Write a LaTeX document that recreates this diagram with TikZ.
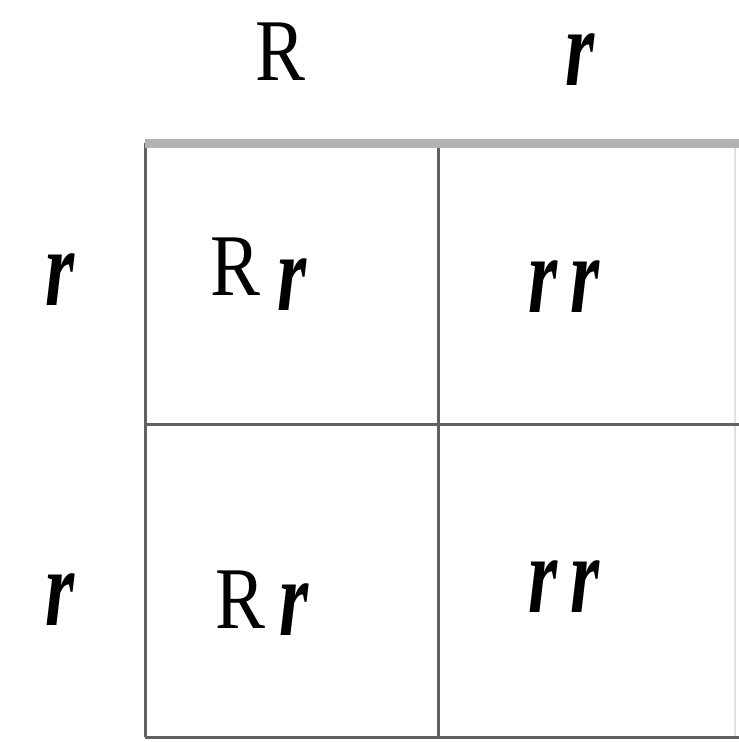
\documentclass[tikz,border=0pt]{standalone}
\usepackage{fontspec}
\setmainfont{Liberation Serif}
\newcommand{\rlet}{\scalebox{0.85}[1.25]{\bfseries\itshape r}}
\newcommand{\Rlet}{\scalebox{0.85}[1.0]{R}}
\begin{document}
\begin{tikzpicture}[x=1pt,y=-1pt,
  lbl/.style={inner sep=0pt, anchor=base, font=\fontsize{88}{88}\selectfont},
  gridline/.style={draw=black!62, line width=3pt},
  topline/.style={draw=black!30, line width=9pt},
  faint/.style={draw=black!12, line width=1.5pt}]
\useasboundingbox (0,0) rectangle (739,742);
% grid
\coordinate (tl) at (145,143);
\coordinate (tm) at (438,143);
\coordinate (tr) at (739,143);
\coordinate (ml) at (145,424);
\coordinate (mr) at (739,424);
\coordinate (bl) at (145,737);
\coordinate (bm) at (438,737);
\coordinate (br) at (739,737);
\draw[faint] (735,143) -- (735,737);
\draw[gridline] (tl) -- (bl);
\draw[gridline] (tm) -- (bm);
\draw[gridline] (ml) -- (mr);
\draw[gridline] (bl) -- (br);
\draw[topline] (tl) -- (tr);
% headers
\node[lbl] (hR) at (280,80) {\Rlet};
\node[lbl] (hr) at (580,85) {\rlet};
\node[lbl] (vr1) at (60,305) {\rlet};
\node[lbl] (vr2) at (60,625) {\rlet};
% cells
\node[lbl] (c1R) at (235,295) {\Rlet};
\node[lbl] (c1r) at (292,310) {\rlet};
\node[lbl] (c2a) at (543,312) {\rlet};
\node[lbl] (c2b) at (585,312) {\rlet};
\node[lbl] (c3R) at (240,628) {\Rlet};
\node[lbl] (c3r) at (294,635) {\rlet};
\node[lbl] (c4a) at (543,612) {\rlet};
\node[lbl] (c4b) at (585,612) {\rlet};
\end{tikzpicture}
\end{document}
